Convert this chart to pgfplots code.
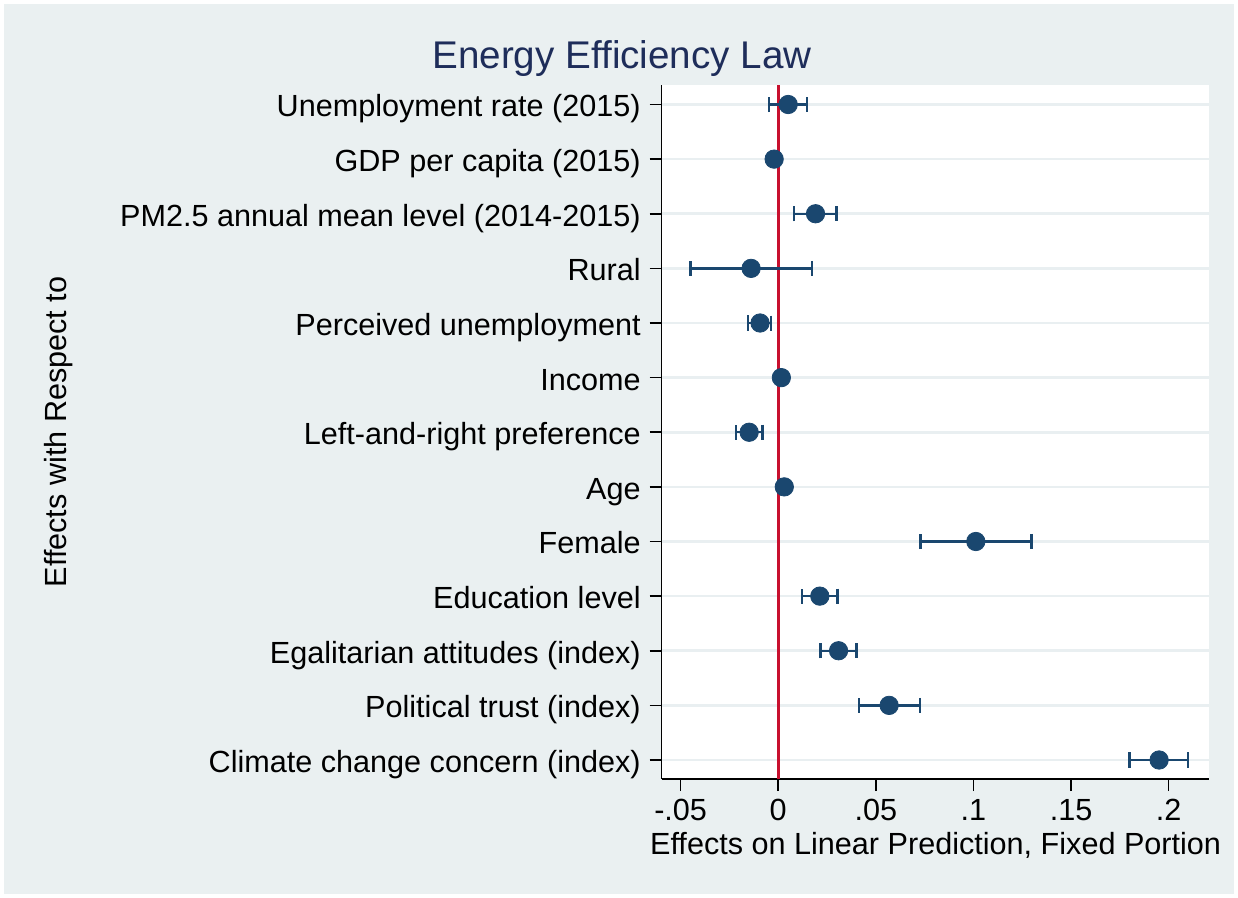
\documentclass[border=0pt]{standalone}
\usepackage{fontspec}
\setmainfont{Liberation Sans}
\usepackage{pgfplots}
\pgfplotsset{compat=1.18}
\usepackage{pgfplotstable}
\definecolor{bgcol}{RGB}{234,240,241}
\definecolor{gridcol}{RGB}{233,239,241}
\definecolor{navy}{RGB}{26,71,111}
\definecolor{titlecol}{RGB}{30,45,90}
\definecolor{redline}{RGB}{200,16,46}

\pgfplotstableread{
pos x lo hi
1 0.0051 -0.0047 0.0148
2 -0.0021 -0.0030 -0.0012
3 0.0191 0.0082 0.0299
4 -0.0139 -0.0449 0.0172
5 -0.0093 -0.0154 -0.0037
6 0.0016 0.0010 0.0022
7 -0.0149 -0.0217 -0.0080
8 0.0031 0.0025 0.0037
9 0.1012 0.0729 0.1298
10 0.0213 0.0123 0.0303
11 0.0309 0.0217 0.0400
12 0.0568 0.0414 0.0725
13 0.1951 0.1799 0.2100
}\coef

\begin{document}
\begin{tikzpicture}
\fill[white] (-330.85bp,-59.5bp) rectangle (288.15bp,389.5bp);
\fill[bgcol] (-328.85bp,-57.5bp) rectangle (286.15bp,387.5bp);
\begin{axis}[
  scale only axis, width=273.9bp, height=347bp,
  xmin=-0.0597, xmax=0.2209, ymin=0.643, ymax=13.348, y dir=reverse,
  axis x line*=bottom, axis y line*=left,
  axis line style={black, line width=0.8bp, -},
  axis background/.style={fill=white},
  xtick={-0.05,0,0.05,0.1,0.15,0.2},
  xticklabels={-.05,0,.05,.1,.15,.2},
  ytick={1,2,3,4,5,6,7,8,9,10,11,12,13},
  yticklabels={Unemployment rate (2015),GDP per capita (2015),PM2.5 annual mean level (2014-2015),Rural,Perceived unemployment,Income,Left-and-right preference,Age,Female,Education level,Egalitarian attitudes (index),Political trust (index),Climate change concern (index)},
  tick align=outside, major tick length=6bp,
  tick style={black, line width=0.8bp},
  ymajorgrids, major grid style={gridcol, line width=1.3bp},
  ticklabel style={font=\fontsize{15.3bp}{18bp}\selectfont},
  yticklabel style={anchor=base east, inner sep=0pt, xshift=-4.3bp, yshift=-6.2bp},
  xticklabel style={anchor=base, inner sep=0pt, yshift=-14.8bp},
  clip=false,
]
\addplot[redline, line width=1.3bp] coordinates {(0,0.643) (0,13.348)};
\addplot[navy, only marks, mark=*, mark size=4.6bp,
  mark options={fill=navy, draw=navy},
  error bars/.cd, x dir=both, x explicit,
  error bar style={line width=1.2bp, navy},
  error mark options={rotate=90, mark size=3.75bp, line width=1.2bp, navy}]
  table[x=x, y=pos, x error plus expr=\thisrow{hi}-\thisrow{x}, x error minus expr=\thisrow{x}-\thisrow{lo}] {\coef};
\end{axis}
\node[anchor=base, text=titlecol, font=\fontsize{19.3bp}{23bp}\selectfont] at (-19.85bp,355bp) {Energy Efficiency Law};
\node[anchor=base, font=\fontsize{15.3bp}{18bp}\selectfont] at (136.95bp,-37.5bp) {Effects on Linear Prediction, Fixed Portion};
\node[anchor=base, rotate=90, font=\fontsize{15.3bp}{18bp}\selectfont] at (-297.35bp,173.5bp) {Effects with Respect to};
\end{tikzpicture}
\end{document}
